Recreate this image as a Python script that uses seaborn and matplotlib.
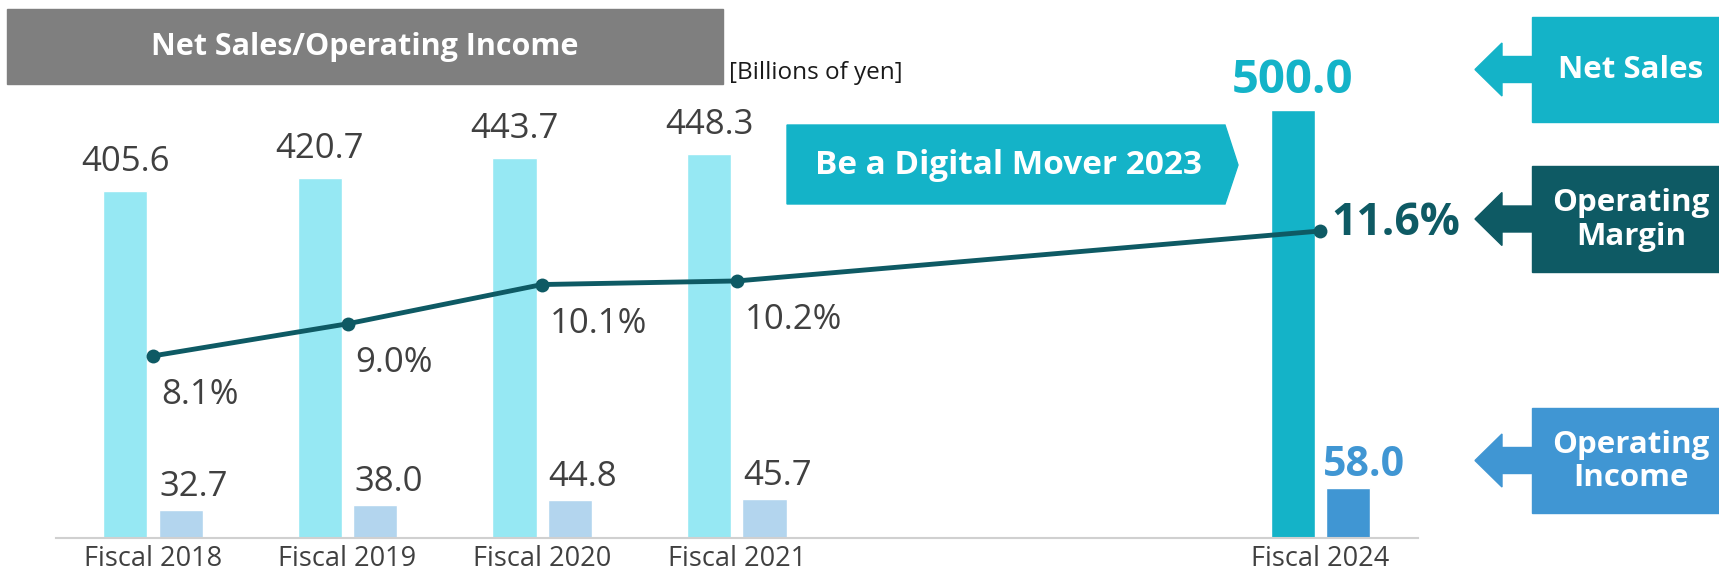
import pandas as pd
import seaborn as sns
import matplotlib.pyplot as plt
from matplotlib.patches import Rectangle, Polygon

# Data (billions of yen, margin in %)
years = ["Fiscal 2018", "Fiscal 2019", "Fiscal 2020", "Fiscal 2021", "Fiscal 2024"]
net_sales = [405.6, 420.7, 443.7, 448.3, 500.0]
op_income = [32.7, 38.0, 44.8, 45.7, 58.0]
op_margin = [8.1, 9.0, 10.1, 10.2, 11.6]
# empty slots for the years between the actuals and the target
order = years[:4] + ["Fiscal 2022", "Fiscal 2023"] + years[4:]

df = pd.DataFrame({
    "year": years * 2,
    "metric": ["Net Sales"] * len(years) + ["Operating Income"] * len(years),
    "value": net_sales + op_income,
})

W, H = 1719, 575
GRAY = "#404040"
TEAL = "#14B3C8"
DARK = "#0E5A64"
BLUE = "#4096D3"

sns.set_style("white")
plt.rcParams["font.family"] = ["Open Sans", "DejaVu Sans"]

fig = plt.figure(figsize=(W / 100, H / 100), dpi=100)
ax = fig.add_axes([55.7 / W, 37 / H, 1362 / W, 528 / H])

sns.barplot(data=df, x="year", y="value", hue="metric", order=order,
            palette={"Net Sales": "#96E8F3", "Operating Income": "#B3D5EE"},
            saturation=1, width=0.57, gap=0.2, legend=False, ax=ax)

ax.set_ylim(0, 616.8)
ax.set_xlim(-0.5, len(order) - 0.5)
ax.set_xlabel("")
ax.set_ylabel("")
ax.set_yticks([])
ax.set_xticks(range(len(order)))
ax.set_xticklabels([o if o in years else "" for o in order], fontsize=19.5, color=GRAY)
ax.tick_params(axis="x", length=0, pad=5)
for s in ["left", "right", "top"]:
    ax.spines[s].set_visible(False)
ax.spines["bottom"].set_color("#D0D0D0")
ax.spines["bottom"].set_linewidth(1.5)

ns_bars = sorted(ax.containers[0], key=lambda p: p.get_x())
oi_bars = sorted(ax.containers[1], key=lambda p: p.get_x())
ns_bars[-1].set_facecolor(TEAL)
oi_bars[-1].set_facecolor(BLUE)

for i, (b, v) in enumerate(zip(ns_bars, net_sales)):
    last = i == len(net_sales) - 1
    ax.annotate(f"{v:.1f}", (b.get_x() + b.get_width() / 2, b.get_height()),
                xytext=(0, 17 if last else 20), textcoords="offset pixels",
                ha="center", va="baseline",
                fontsize=34 if last else 25, fontweight="bold" if last else "normal",
                color=TEAL if last else GRAY)
for i, (b, v) in enumerate(zip(oi_bars, op_income)):
    last = i == len(op_income) - 1
    ax.annotate(f"{v:.1f}", (b.get_x(), b.get_height()),
                xytext=(-3 if last else 1, 12 if last else 14), textcoords="offset pixels",
                ha="left", va="baseline",
                fontsize=29.5 if last else 25, fontweight="bold" if last else "normal",
                color=BLUE if last else GRAY)

# operating margin on its own scale
ax2 = ax.twinx()
xpos = [order.index(y) for y in years]
sns.lineplot(x=xpos, y=op_margin, ax=ax2, color=DARK, linewidth=3.5,
             marker="o", markersize=10, markeredgewidth=0)
ax2.set_ylim(3.0, 17.79)
ax2.set_yticks([])
ax2.set_ylabel("")
for s in ax2.spines.values():
    s.set_visible(False)

for i, (x, v) in enumerate(zip(xpos, op_margin)):
    if i == len(op_margin) - 1:
        ax2.annotate(f"{v:.1f}%", (x, v), xytext=(11, -4), textcoords="offset pixels",
                     ha="left", va="baseline", fontsize=32, fontweight="bold", color=DARK)
    else:
        ax2.annotate(f"{v:.1f}%", (x, v), xytext=(8, -48), textcoords="offset pixels",
                     ha="left", va="baseline", fontsize=25, color=GRAY)


# decorations drawn in figure pixel space (from top-left)
def fxy(px, py):
    return (px / W, 1 - py / H)


def rect(x0, y0, x1, y1, color):
    fig.patches.append(Rectangle(fxy(x0, y1), (x1 - x0) / W, (y1 - y0) / H,
                                 transform=fig.transFigure, color=color, zorder=0))


def left_arrow(tip_x, y, color):
    pts = [(tip_x, y), (tip_x + 27, y - 26.5), (tip_x + 27, y - 13), (tip_x + 58, y - 13),
           (tip_x + 58, y + 13), (tip_x + 27, y + 13), (tip_x + 27, y + 26.5)]
    fig.patches.append(Polygon([fxy(*p) for p in pts], closed=True,
                               transform=fig.transFigure, color=color))


# title box
rect(7, 9, 723, 84, "#7F7F7F")
fig.text(*fxy(365, 47), "Net Sales/Operating Income", ha="center", va="center",
         fontsize=22, fontweight="bold", color="white")
fig.text(*fxy(729, 79), "[Billions of yen]", ha="left", va="baseline",
         fontsize=17.5, color="#1A1A1A")

# banner
banner = [(787, 125), (1225, 125), (1238, 165), (1225, 204), (787, 204)]
fig.patches.append(Polygon([fxy(*p) for p in banner], closed=True,
                           transform=fig.transFigure, color=TEAL))
fig.text(*fxy(1008, 166), "Be a Digital Mover 2023", ha="center", va="center",
         fontsize=24, fontweight="bold", color="white")

# side legend boxes
boxes = [("Net Sales", 17, 122, TEAL), ("Operating\nMargin", 166, 272, DARK),
         ("Operating\nIncome", 408, 513, BLUE)]
for label, y0, y1, c in boxes:
    rect(1532, y0, W, y1, c)
    left_arrow(1475, (y0 + y1) / 2, c)
    fig.text(*fxy(1631, (y0 + y1) / 2 + 1), label, ha="center", va="center",
             fontsize=22.5, fontweight="bold", color="white", linespacing=1.15)

fig.savefig("out.png", dpi=100)
